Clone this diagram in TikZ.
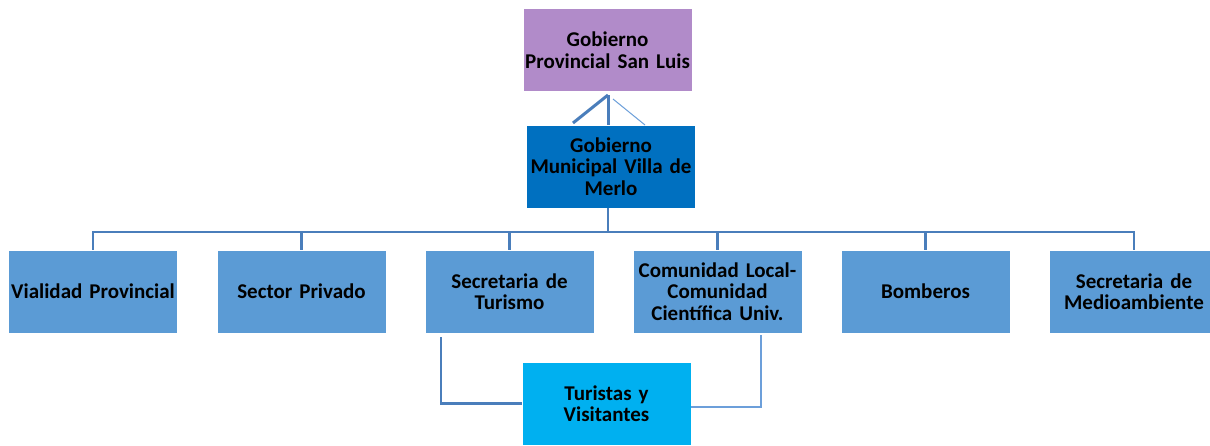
\documentclass[tikz,border=0pt]{standalone}
\usepackage{fontspec}
\setmainfont{Carlito}
\usepackage{tikz}
\usetikzlibrary{positioning,calc}

\definecolor{provcol}{HTML}{B18BC9}
\definecolor{municol}{HTML}{0070C0}
\definecolor{areacol}{HTML}{5B9BD5}
\definecolor{turicol}{HTML}{00B0F0}
\definecolor{linkcol}{HTML}{4A7EBB}
\definecolor{lightlink}{HTML}{6C9FDA}

\tikzset{
    box/.style={rectangle, draw=white, line width=0.6pt, minimum width=169pt, minimum height=83pt,
        text width=165pt, align=center, inner sep=0pt, font=\fontsize{21}{21.5}\selectfont\bfseries},
    link/.style={draw=linkcol, line width=3pt},
    thinlink/.style={draw=lightlink, line width=1.6pt}
}

\begin{document}
\begin{tikzpicture}[x=1pt, y=-1pt]
    \useasboundingbox[fill=white] (0,0) rectangle (1210,445);

    \node[box, fill=provcol] (gob) at (607.5, 50) {Gobierno\\Provincial San Luis};
    \node[box, fill=municol] (mun) at (611, 166.5) {Gobierno\\Municipal Villa de\\Merlo};

    \node[box, fill=areacol] (vial) at (93, 291.5) {Vialidad Provincial};
    \node[box, fill=areacol] (priv) at (301.5, 291.5) {Sector Privado};
    \node[box, fill=areacol] (sect) at (509.5, 291.5) {Secretaria de\\Turismo};
    \node[box, fill=areacol] (comu) at (717.5, 291.5) {Comunidad Local-\\Comunidad\\Científica Univ.};
    \node[box, fill=areacol] (bomb) at (925.5, 291.5) {Bomberos};
    \node[box, fill=areacol] (medi) at (1134, 291.5) {Secretaria de\\Medioambiente};

    \node[box, fill=turicol] (turi) at (606.5, 403.5) {Turistas y\\Visitantes};

    % top link
    \coordinate (apex) at (608, 95);
    \draw[link] (573, 123) -- (apex);
    \draw[link] (apex |- mun.north) -- (apex);
    \draw[thinlink, line width=1pt] (645, 125) -- (613, 99);

    % bus to the areas
    \foreach \n in {vial, priv, sect, comu, bomb, medi}
        \draw[link, line width=2.5pt] (mun.south -| apex) -- (608, 232) -| (\n.north);

    % links to the visitors
    \draw[link, line width=2.5pt] (441, 337) |- (turi.west);
    \draw[thinlink] (761, 335) |- ($(turi.east)+(0,3.5)$);
\end{tikzpicture}
\end{document}
